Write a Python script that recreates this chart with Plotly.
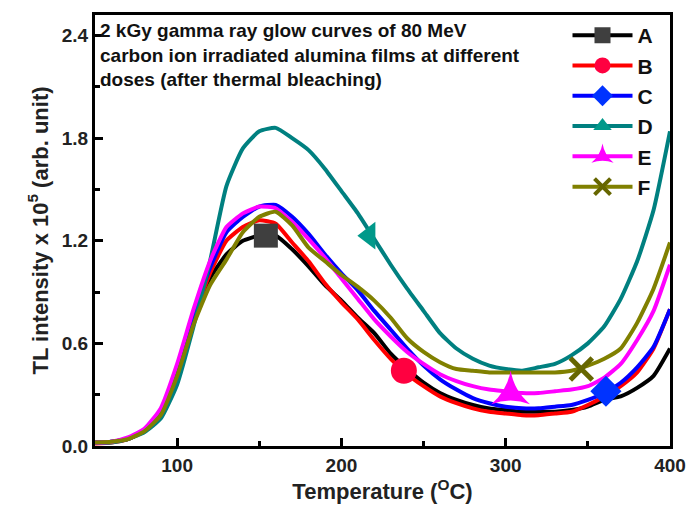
import plotly.graph_objects as go

temperature = list(range(50, 401, 10))

series_names = ["A", "B", "C", "D", "E", "F"]

curve_A = [0.02, 0.025, 0.04, 0.09, 0.19, 0.42, 0.72, 0.98, 1.12, 1.20, 1.23, 1.23, 1.15, 1.05,
           0.94, 0.85, 0.75, 0.66, 0.54, 0.45, 0.37, 0.31, 0.27, 0.24, 0.22, 0.21, 0.20, 0.20,
           0.20, 0.21, 0.23, 0.27, 0.29, 0.34, 0.41, 0.57]
curve_B = [0.015, 0.02, 0.04, 0.09, 0.19, 0.43, 0.74, 1.01, 1.20, 1.28, 1.32, 1.30, 1.19, 1.08,
           0.95, 0.84, 0.74, 0.62, 0.51, 0.42, 0.35, 0.29, 0.25, 0.22, 0.20, 0.19, 0.18, 0.18,
           0.19, 0.20, 0.24, 0.29, 0.35, 0.43, 0.57, 0.80]
curve_C = [0.02, 0.025, 0.045, 0.09, 0.19, 0.44, 0.76, 1.04, 1.25, 1.34, 1.40, 1.41, 1.34, 1.24,
           1.12, 1.01, 0.91, 0.79, 0.68, 0.57, 0.47, 0.39, 0.33, 0.28, 0.25, 0.23, 0.22, 0.22,
           0.23, 0.24, 0.27, 0.31, 0.37, 0.46, 0.58, 0.80]
curve_D = [0.02, 0.02, 0.04, 0.08, 0.16, 0.36, 0.70, 1.08, 1.52, 1.74, 1.84, 1.86, 1.80, 1.73,
           1.62, 1.49, 1.36, 1.21, 1.06, 0.92, 0.79, 0.66, 0.57, 0.51, 0.47, 0.45, 0.44, 0.46,
           0.48, 0.53, 0.60, 0.70, 0.86, 1.08, 1.38, 1.84]
curve_E = [0.02, 0.025, 0.05, 0.10, 0.22, 0.48, 0.80, 1.08, 1.28, 1.36, 1.40, 1.39, 1.31, 1.21,
           1.10, 0.98, 0.86, 0.74, 0.64, 0.55, 0.48, 0.42, 0.38, 0.35, 0.33, 0.32, 0.31, 0.31,
           0.32, 0.33, 0.35, 0.40, 0.48, 0.62, 0.79, 1.06]
curve_F = [0.02, 0.025, 0.04, 0.085, 0.18, 0.41, 0.71, 0.94, 1.09, 1.25, 1.34, 1.37, 1.29, 1.16,
           1.08, 1.00, 0.93, 0.85, 0.75, 0.63, 0.55, 0.49, 0.45, 0.44, 0.43, 0.43, 0.43, 0.43,
           0.43, 0.44, 0.47, 0.51, 0.57, 0.72, 0.92, 1.19]
curves = [curve_A, curve_B, curve_C, curve_D, curve_E, curve_F]

marker_x = [154, 238, 361, 217, 303, 346]
marker_y = [1.23, 0.44, 0.32, 1.23, 0.31, 0.45]

line_colors = ["#000000", "#ff0000", "#0000ff", "#008080", "#ff00ff", "#808000"]
marker_colors = ["#3f3f3f", "#ff0040", "#0033ff", "#00998a", "#ff00ff", "#666600"]
marker_symbols = ["square", "circle", "diamond", "triangle-left", "star-triangle-up", "x-thin"]
legend_symbols = ["square", "circle", "diamond", "triangle-up", "star-triangle-up", "x-thin"]
marker_sizes = [24, 26, 24, 24, 28, 22]

y_ticks = [0.0, 0.6, 1.2, 1.8, 2.4]
x_ticks = [100, 200, 300, 400]

annotation_text = ("2 kGy gamma ray glow curves of 80 MeV<br>"
                   "carbon ion irradiated alumina films at different<br>"
                   "doses (after thermal bleaching)")

FONT = "Arial, Liberation Sans, sans-serif"

fig = go.Figure()

for i, name in enumerate(series_names):
    fig.add_trace(go.Scatter(
        x=temperature, y=curves[i], mode="lines", name=name, showlegend=False,
        line=dict(color=line_colors[i], width=4, shape="spline", smoothing=0.5),
    ))

for i, name in enumerate(series_names):
    is_x = marker_symbols[i] == "x-thin"
    fig.add_trace(go.Scatter(
        x=[marker_x[i]], y=[marker_y[i]], mode="markers", showlegend=False,
        marker=dict(symbol=marker_symbols[i], size=marker_sizes[i], color=marker_colors[i],
                    line=dict(width=5 if is_x else 0, color=marker_colors[i])),
    ))

for i, name in enumerate(series_names):
    is_x = legend_symbols[i] == "x-thin"
    fig.add_trace(go.Scatter(
        x=[None], y=[None], mode="lines+markers", name=name,
        line=dict(color=line_colors[i], width=4),
        marker=dict(symbol=legend_symbols[i], size=marker_sizes[i], color=marker_colors[i],
                    line=dict(width=4 if is_x else 0, color=marker_colors[i])),
    ))

fig.add_annotation(
    x=0.0, y=1.0, xref="paper", yref="paper", xanchor="left", yanchor="top",
    xshift=3, yshift=-3,
    text=annotation_text, showarrow=False, align="left",
    font=dict(family=FONT, size=19, color="#111111", weight="bold"),
)

axis_common = dict(
    showline=True, linecolor="black", linewidth=3, mirror=True,
    ticks="inside", ticklen=8, tickwidth=3, tickcolor="black",
    showgrid=False, zeroline=False,
    tickfont=dict(family=FONT, size=19, color="#222222", weight="bold"),
)

fig.update_xaxes(
    range=[50, 400], tickvals=x_ticks,
    minor=dict(ticks="inside", ticklen=5, tickwidth=3, tickcolor="black", dtick=50, tick0=50),
    title=dict(text="Temperature (<sup>O</sup>C)", standoff=6,
               font=dict(family=FONT, size=22, color="#222222", weight="bold")),
    **axis_common,
)
fig.update_yaxes(
    range=[0, 2.52], tickvals=y_ticks, tickformat=".1f",
    minor=dict(ticks="inside", ticklen=5, tickwidth=3, tickcolor="black", dtick=0.3, tick0=0),
    title=dict(text="TL intensity x 10<sup>5</sup> (arb. unit)", standoff=8,
               font=dict(family=FONT, size=22, color="#222222", weight="bold")),
    **axis_common,
)

fig.update_layout(
    width=698, height=512,
    margin=dict(l=95, r=18, t=12, b=66),
    plot_bgcolor="white", paper_bgcolor="white",
    legend=dict(
        x=0.98, y=1.0, xanchor="right", yanchor="top",
        bgcolor="rgba(0,0,0,0)", itemwidth=60, tracegroupgap=0,
        font=dict(family=FONT, size=21, color="#111111", weight="bold"),
    ),
)

fig.write_html("out.html")
